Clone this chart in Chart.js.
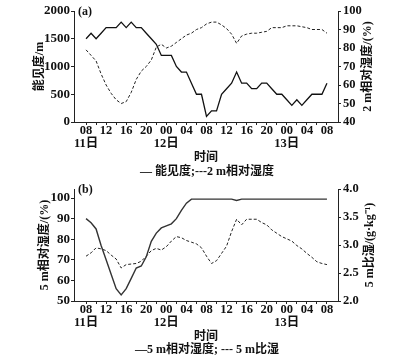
<!DOCTYPE html>
<html><head><meta charset="utf-8">
<script src="https://cdn.jsdelivr.net/npm/chart.js@4.4.1/dist/chart.umd.min.js"></script>
<style>
html,body{margin:0;padding:0;background:#fff;width:406px;height:359px;overflow:hidden;}
canvas{position:absolute;left:0;}
#ca{top:0;}
#cb{top:178px;}
.lg{position:absolute;left:4px;width:406px;text-align:center;font:bold 12px 'Liberation Serif','Noto Sans CJK SC',serif;color:#111;line-height:14px;white-space:pre;}
</style></head><body>
<canvas id="ca" width="406" height="164"></canvas>
<div class="lg" id="la" style="top:164px;"></div>
<canvas id="cb" width="406" height="164"></canvas>
<div class="lg" id="lb" style="top:342px;"></div>
<script>
// hours after 08:00 on the 11th
const hours = [0,1,2,3,4,5,6,7,8,9,10,11,12,13,14,15,16,17,18,19,20,21,22,23,24,25,26,27,28,29,30,31,32,33,34,35,36,37,38,39,40,41,42,43,44,45,46,47,48];
const tickHours = [0,4,8,12,16,20,24,28,32,36,40,44,48];
const tickText = ['08','12','16','20','00','04','08','12','16','20','00','04','08'];
const dayText = {0:'11日',16:'12日',40:'13日'};

// panel (a)
const visibility = [1500,1600,1500,1600,1700,1700,1700,1800,1700,1800,1700,1700,1600,1500,1400,1200,1200,1200,1000,900,900,700,500,500,100,200,200,500,600,700,900,700,700,600,600,700,700,600,500,500,400,300,400,300,400,500,500,500,700];
const rh2m = [79,76,73,66,60,55.5,52,50,51,56,63,67.5,70,73.5,80.5,82,80,81,83,85,87,88,90,91,93,94,94,92.5,90.5,87.5,82.5,86.5,87.5,88,88,88.5,89,91,91,91,92,92,92,91.5,91,90,90,90,88];
// panel (b)
const rh5m = [90,88,85,77,70,63,56,53,56,61,66,67,71.5,79,83,85.5,86.5,87.5,90,94,97.5,99.5,99.5,99.5,99.5,99.5,99.5,99.5,99.5,99.5,98.8,99.5,99.5,99.5,99.5,99.5,99.5,99.5,99.5,99.5,99.5,99.5,99.5,99.5,99.5,99.5,99.5,99.5,99.5];
const sh5m = [2.80,2.86,2.95,2.93,2.90,2.82,2.75,2.59,2.65,2.66,2.67,2.71,2.80,2.90,2.94,2.91,2.97,3.07,3.15,3.13,3.08,3.05,3.02,2.95,2.80,2.67,2.72,2.85,2.98,3.24,3.46,3.36,3.46,3.46,3.46,3.40,3.36,3.27,3.21,3.15,3.11,3.07,2.99,2.93,2.85,2.78,2.70,2.67,2.65];

const leftTicksA = [0,500,1000,1500,2000];
const rightTicksA = [40,50,60,70,80,90,100];
const leftTicksB = [50,60,70,80,90,100];
const rightTicksB = [2.0,2.5,3.0,3.5,4.0];

document.getElementById('la').textContent = '— 能见度;---2 m相对湿度';
document.getElementById('lb').textContent = '—5 m相对湿度; --- 5 m比湿';

const FAM = "'Liberation Serif','Noto Sans CJK SC',serif";
const INK = '#111';

const extraText = {
  id: 'extraText',
  afterDraw(chart, args, o) {
    const ctx = chart.ctx, ca = chart.chartArea;
    ctx.save();
    ctx.fillStyle = INK;
    ctx.font = 'bold 12px ' + FAM;
    ctx.textAlign = 'left'; ctx.textBaseline = 'middle';
    ctx.fillText(o.panel, ca.left + 4, o.panelY);
    ctx.translate(o.rtX, (ca.top + ca.bottom) / 2);
    ctx.rotate(-Math.PI / 2);
    ctx.textAlign = 'center';
    ctx.fillText(o.rtitle, 0, 0);
    ctx.restore();
  }
};

function pts(arr) { return hours.map((h, i) => ({x: h, y: arr[i]})); }
function setTicks(list) { return scale => { scale.ticks = list.map(v => ({value: v})); }; }

function makeChart(id, cfg) {
  const xHours = [];
  for (let h = 0; h <= 48; h += 2) xHours.push(h);
  return new Chart(document.getElementById(id), {
    type: 'line',
    data: { datasets: [
      { data: pts(cfg.s1), yAxisID: 'yL', borderColor: cfg.c1, borderWidth: cfg.w1, pointRadius: 0, tension: 0, fill: false },
      { data: pts(cfg.s2), yAxisID: 'yR', borderColor: '#222', borderWidth: 1, borderDash: [3, 2], pointRadius: 0, tension: 0, fill: false }
    ]},
    options: {
      responsive: false, animation: false,
      layout: { padding: { top: 11, left: 0, right: 0, bottom: 0 } },
      plugins: { legend: { display: false }, tooltip: { enabled: false },
        extraText: { panel: cfg.panel, panelY: 12, rtX: cfg.rtX, rtitle: cfg.rtitle } },
      scales: {
        x: {
          type: 'linear', min: -2.4, max: 50.2,
          afterBuildTicks: setTicks(xHours),
          afterFit: s => { s.height = cfg.xH; },
          border: { display: true, color: '#222', width: 1 },
          grid: { display: true, drawOnChartArea: false, drawTicks: true, tickLength: 3, color: '#222' },
          ticks: { autoSkip: false, maxRotation: 0, padding: -1, color: INK,
            font: { family: FAM, size: 12.5, weight: 'bold', lineHeight: '13px' },
            callback: v => { const i = tickHours.indexOf(v); if (i < 0) return ''; return dayText[v] ? [tickText[i], dayText[v]] : tickText[i]; } },
          title: { display: true, text: '时间', color: INK, padding: { top: 0, bottom: cfg.tPad },
            font: { family: FAM, size: 12, weight: 'bold' } }
        },
        yL: {
          position: 'left', min: cfg.lMin, max: cfg.lMax,
          afterBuildTicks: setTicks(cfg.lTicks),
          afterFit: s => { s.width = 74; },
          border: { display: true, color: '#222', width: 1 },
          grid: { display: true, drawOnChartArea: false, drawTicks: true, tickLength: 3, color: '#222' },
          ticks: { padding: 1, color: INK, font: { family: FAM, size: 13, weight: 'bold' }, callback: v => String(v) },
          title: { display: true, text: cfg.ltitle, color: INK, padding: { top: cfg.lPad, bottom: 0 },
            font: { family: FAM, size: 12, weight: 'bold' } }
        },
        yR: {
          position: 'right', min: cfg.rMin, max: cfg.rMax,
          afterBuildTicks: setTicks(cfg.rTicks),
          afterFit: s => { s.width = 68; },
          border: { display: true, color: '#222', width: 1 },
          grid: { display: true, drawOnChartArea: false, drawTicks: true, tickLength: 3, color: '#222' },
          ticks: { padding: 2, color: INK, font: { family: FAM, size: 12.5, weight: 'bold' }, callback: cfg.rFmt }
        }
      }
    },
    plugins: [extraText]
  });
}

makeChart('ca', {
  s1: visibility, s2: rh2m, c1: '#111', w1: 1.3,
  panel: '(a)', rtX: 368, rtitle: '2 m相对湿度/(%)',
  xH: 42, tPad: -1,
  lMin: 0, lMax: 2000, lTicks: leftTicksA, ltitle: '能见度/m', lPad: 32.8,
  rMin: 40, rMax: 100, rTicks: rightTicksA, rFmt: v => String(v)
});
makeChart('cb', {
  s1: rh5m, s2: sh5m, c1: '#333', w1: 1.4,
  panel: '(b)', rtX: 370, rtitle: '5 m比湿/(g·kg⁻¹)',
  xH: 41, tPad: -2,
  lMin: 50, lMax: 104.4, lTicks: leftTicksB, ltitle: '5 m相对湿度/(%)', lPad: 37.8,
  rMin: 2.0, rMax: 4.0, rTicks: rightTicksB, rFmt: v => v.toFixed(1)
});
</script>
</body></html>
